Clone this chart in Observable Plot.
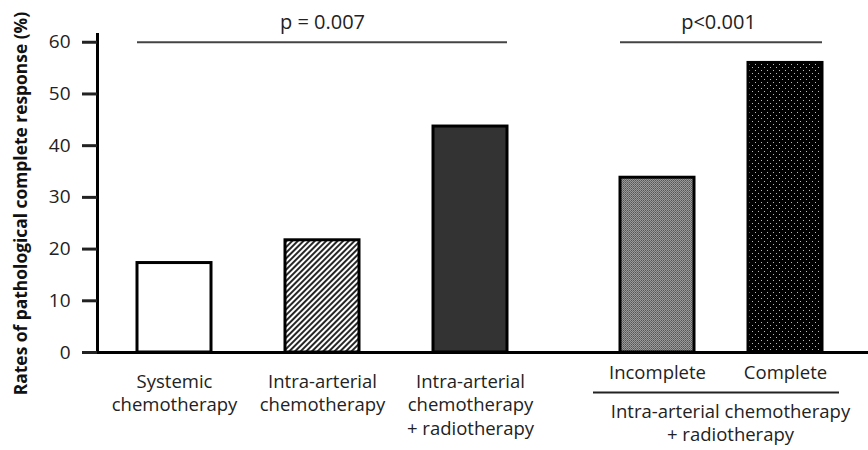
<!DOCTYPE html>
<html><head><meta charset="utf-8">
<script src="https://cdn.jsdelivr.net/npm/d3@7"></script>
<script src="https://cdn.jsdelivr.net/npm/@observablehq/plot@0.6"></script>
<style>
body{margin:0;background:#fff;}
#chart{display:flex;width:868px;height:450px;overflow:hidden;}
#chart svg{display:block;flex:none;}
</style></head><body><div id="chart"></div>
<script>
// ---- data ----
const groupA = ["Systemic\nchemotherapy", "Intra-arterial\nchemotherapy", "Intra-arterial\nchemotherapy\n+ radiotherapy"];
const valuesA = [17.3, 21.7, 43.7];
const groupB = ["Incomplete", "Complete"];
const valuesB = [33.8, 56.0];
const groupBLabel = "Intra-arterial chemotherapy\n+ radiotherapy";
const pA = "p = 0.007";
const pB = "p<0.001";
const pLevel = 60;
const yTicks = [0, 10, 20, 30, 40, 50, 60];
const yMax = 61.5;
const yLabel = "Rates of pathological complete response (%)";
const fillsA = ["#ffffff", "url(#hatchA)", "#333333"];
const fillsB = ["url(#greyB)", "url(#dotsB)"];

const dataA = groupA.map((c, i) => ({cat: c, value: valuesA[i]}));
const dataB = groupB.map((c, i) => ({cat: c, value: valuesB[i]}));

const FONT = "'Open Sans', sans-serif";
const LAB = 18.5;

function defsA() {
  const d = d3.create("svg:defs");
  const h = d.append("pattern").attr("id", "hatchA").attr("patternUnits", "userSpaceOnUse")
    .attr("width", 4).attr("height", 4).attr("patternTransform", "rotate(45)");
  h.append("rect").attr("width", 4).attr("height", 4).attr("fill", "#fff");
  h.append("line").attr("x1", 1).attr("y1", 0).attr("x2", 1).attr("y2", 4)
    .attr("stroke", "#000").attr("stroke-width", 1.7);
  return d.node();
}
function defsB() {
  const d = d3.create("svg:defs");
  const g = d.append("pattern").attr("id", "greyB").attr("patternUnits", "userSpaceOnUse")
    .attr("width", 2).attr("height", 2);
  g.append("rect").attr("width", 2).attr("height", 2).attr("fill", "#9a9a9a");
  g.append("rect").attr("width", 1).attr("height", 1).attr("fill", "#555");
  g.append("rect").attr("x", 1).attr("y", 1).attr("width", 1).attr("height", 1).attr("fill", "#6a6a6a");
  const p = d.append("pattern").attr("id", "dotsB").attr("patternUnits", "userSpaceOnUse")
    .attr("width", 6).attr("height", 6);
  p.append("rect").attr("width", 6).attr("height", 6).attr("fill", "#000");
  p.append("rect").attr("x", 1).attr("y", 1).attr("width", 1).attr("height", 1).attr("fill", "#bbb");
  p.append("rect").attr("x", 4).attr("y", 4).attr("width", 1).attr("height", 1).attr("fill", "#bbb");
  return d.node();
}

const common = {
  height: 450, marginTop: 34, marginBottom: 98,
  y: {domain: [0, yMax], axis: null},
  style: {fontFamily: FONT, fontSize: LAB + "px", color: "#222", background: "transparent"}
};

const left = Plot.plot({
  ...common,
  width: 547, marginLeft: 97, marginRight: 0,
  x: {domain: groupA, paddingInner: 0.5, paddingOuter: 0.27, align: 0.5, axis: null},
  color: {domain: groupA, range: fillsA},
  marks: [
    defsA,
    Plot.barY(dataA, {x: "cat", y: "value", fill: "cat", stroke: "#000", strokeWidth: 3}),
    Plot.ruleY([0], {stroke: "#000", strokeWidth: 3, insetLeft: -15}),
    Plot.frame({anchor: "left", stroke: "#000", strokeWidth: 3}),
    Plot.axisY({ticks: yTicks, tickSize: 15, strokeWidth: 3, tickPadding: 12, fontSize: 19, label: null, fill: "#222"}),
    Plot.axisX({tickSize: 0, tickPadding: 18.5, fontSize: LAB, lineHeight: 1.27, label: null, fill: "#222"}),
    Plot.ruleY([{y: pLevel}], {y: "y", x1: () => groupA[0], x2: () => groupA[groupA.length - 1], stroke: "#444", strokeWidth: 2}),
    Plot.text([{y: pLevel, t: pA}], {y: "y", x: () => groupA[1], text: "t", lineAnchor: "bottom", dy: -13.5, fontSize: 20, fill: "#222"}),
    Plot.text([yLabel], {text: d => d, frameAnchor: "left", textAnchor: "middle", lineAnchor: "middle", rotate: -90, dx: -76, dy: 10, fontWeight: "bold", fontSize: 17.4, fill: "#111"})
  ]
});

const right = Plot.plot({
  ...common,
  width: 321, marginLeft: 0, marginRight: 0,
  x: {domain: groupB, paddingInner: 0.4225, paddingOuter: 0.4555, align: 0.613, axis: null},
  color: {domain: groupB, range: fillsB},
  marks: [
    defsB,
    Plot.barY(dataB, {x: "cat", y: "value", fill: "cat", stroke: "#000", strokeWidth: 3}),
    Plot.ruleY([0], {stroke: "#000", strokeWidth: 3}),
    Plot.axisX({tickSize: 0, tickPadding: 12.9, fontSize: LAB, label: null, fill: "#222"}),
    Plot.ruleY([0], {x1: () => groupB[0], x2: () => groupB[groupB.length - 1], insetLeft: -27, insetRight: -17, dy: 40, stroke: "#222", strokeWidth: 2}),
    Plot.text([groupBLabel], {text: d => d, y: () => 0, frameAnchor: "middle", lineAnchor: "top", dy: 48.5, dx: 22.5, lineHeight: 1.27, fontSize: LAB, fill: "#222"}),
    Plot.ruleY([{y: pLevel}], {y: "y", x1: () => groupB[0], x2: () => groupB[groupB.length - 1], stroke: "#444", strokeWidth: 2}),
    Plot.text([{y: pLevel, t: pB}], {y: "y", text: "t", frameAnchor: "middle", dx: 10.5, lineAnchor: "bottom", dy: -13.5, fontSize: 20, fill: "#222"})
  ]
});

document.getElementById("chart").append(left, right);
</script></body></html>
